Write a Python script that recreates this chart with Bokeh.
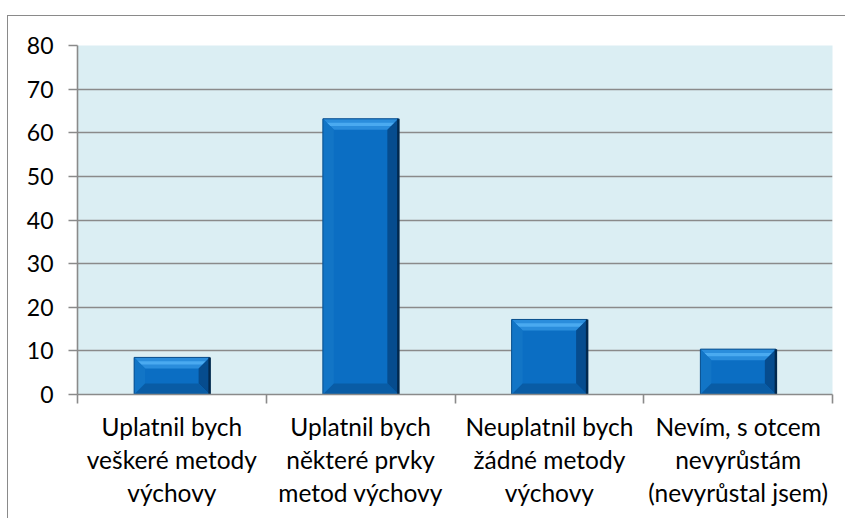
import numpy as np
from bokeh.plotting import figure
from bokeh.models import Range1d, FixedTicker
from bokeh.embed import file_html
from bokeh.resources import INLINE

categories = [
    "Uplatnil bych\nveškeré metody\nvýchovy",
    "Uplatnil bych\nněkteré prvky\nmetod výchovy",
    "Neuplatnil bych\nžádné metody\nvýchovy",
    "Nevím, s otcem\nnevyrůstám\n(nevyrůstal jsem)",
]
values = [8.5, 63.2, 17.2, 10.4]
y_ticks = [0, 10, 20, 30, 40, 50, 60, 70, 80]

FONT = "Lato"
GRAY = "#8a8a8a"

p = figure(width=838, height=503, output_backend="svg", toolbar_location=None,
           x_range=Range1d(0, len(categories)), y_range=Range1d(0, 80),
           min_border_left=69, min_border_right=14, min_border_top=29, min_border_bottom=125)
p.margin = (15, 0, 0, 7)
p.styles = {"border-top": "1px solid #8a8a8a", "border-left": "1px solid #8a8a8a"}
p.background_fill_color = "#dbeef3"
p.border_fill_color = "white"
p.outline_line_color = None

# grid
p.xgrid.grid_line_color = None
p.ygrid.grid_line_color = GRAY
p.ygrid.grid_line_width = 1.6
p.yaxis.ticker = FixedTicker(ticks=y_ticks)

# axes
for ax in (p.xaxis, p.yaxis):
    ax.axis_line_color = GRAY
    ax.axis_line_width = 1.6
    ax.major_tick_line_color = GRAY
    ax.major_tick_line_width = 1.6
    ax.minor_tick_line_color = GRAY
    ax.minor_tick_line_width = 1.6
    ax.major_tick_in = 0
    ax.minor_tick_in = 0
    ax.major_label_text_font = FONT
    ax.major_label_text_color = "black"

p.yaxis.major_label_text_font_size = "23px"
p.yaxis.major_tick_out = 9
p.yaxis.minor_tick_out = 0
p.yaxis.major_label_standoff = 15

centers = [i + 0.5 for i in range(len(categories))]
p.xaxis.ticker = FixedTicker(ticks=centers, minor_ticks=list(range(len(categories) + 1)))
p.xaxis.major_tick_out = 0
p.xaxis.minor_tick_out = 9
p.xaxis.major_label_overrides = {c: lab for c, lab in zip(centers, categories)}
p.xaxis.major_label_text_font_size = "24.5px"
p.xaxis.major_label_standoff = 8
p.xaxis.major_label_text_line_height = 1.15

# bars with bevel
hw = 0.2
c = np.array(centers)
v = np.array(values)
bx = 11 / 188.5   # bevel width in x units
by = 11 / 4.35    # bevel height in y units
L, R = c - hw, c + hw

p.quad(left=L, right=R, bottom=0, top=v, fill_color="#0b6ec3", line_color=None)

def polys(fn):
    xs, ys = [], []
    for l, r, t in zip(L, R, v):
        x, y = fn(l, r, t)
        xs.append(list(x)); ys.append(list(y))
    return xs, ys

# top bevel
xs, ys = polys(lambda l, r, t: ([l, r, r - bx, l + bx], [t, t, t - by, t - by]))
p.patches(xs, ys, fill_color="#2a8ddc", line_color=None)
# highlight strip
xs, ys = polys(lambda l, r, t: ([l + bx * 0.35, r - bx * 0.35, r - bx * 0.65, l + bx * 0.65],
                                [t - by * 0.35, t - by * 0.35, t - by * 0.65, t - by * 0.65]))
p.patches(xs, ys, fill_color="#4aaaf0", line_color=None)
# left bevel
xs, ys = polys(lambda l, r, t: ([l, l + bx, l + bx, l], [t, t - by, by, 0]))
p.patches(xs, ys, fill_color="#1275c6", line_color=None)
# right bevel
xs, ys = polys(lambda l, r, t: ([r, r - bx, r - bx, r], [t, t - by, by, 0]))
p.patches(xs, ys, fill_color="#064c8e", line_color=None)
# bottom bevel
xs, ys = polys(lambda l, r, t: ([l, r, r - bx, l + bx], [0, 0, by, by]))
p.patches(xs, ys, fill_color="#095ca5", line_color=None)
# outline
p.quad(left=L, right=R, bottom=0, top=v, fill_color=None, line_color="#0a4f8c", line_width=1)
# dark right edge
p.segment(x0=R, y0=0, x1=R, y1=v, line_color="#02284d", line_width=2.5)

open("out.html", "w").write(file_html(p, INLINE))
